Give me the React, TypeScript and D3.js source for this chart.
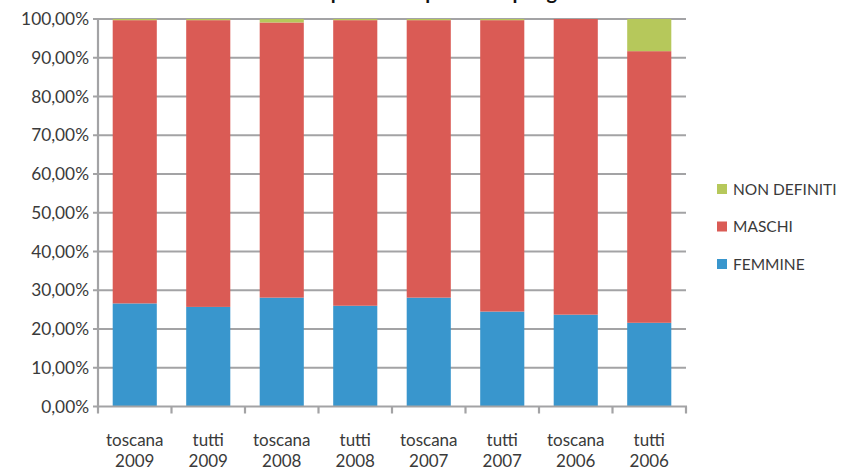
import React from "react";
import * as d3 from "d3";

// Stacked 100% bars: share of women, men and undefined per group/year
const categories = [
  ["toscana", "2009"],
  ["tutti", "2009"],
  ["toscana", "2008"],
  ["tutti", "2008"],
  ["toscana", "2007"],
  ["tutti", "2007"],
  ["toscana", "2006"],
  ["tutti", "2006"],
];
const femmine = [26.6, 25.7, 28.1, 26.0, 28.1, 24.5, 23.7, 21.6];
const maschi = [73.1, 74.0, 71.0, 73.7, 71.6, 75.2, 76.3, 70.1];
const nonDefiniti = [0.3, 0.3, 0.9, 0.3, 0.3, 0.3, 0.0, 8.3];
const yTicks = [0, 10, 20, 30, 40, 50, 60, 70, 80, 90, 100];
const title = "Grafico ripartizione per sesso per genere";

const seriesDefs = [
  { key: "femmine", label: "FEMMINE", values: femmine, color: "#3996CD" },
  { key: "maschi", label: "MASCHI", values: maschi, color: "#DA5B55" },
  { key: "nonDefiniti", label: "NON DEFINITI", values: nonDefiniti, color: "#B6C85B" },
];

const W = 842;
const H = 470;
const left = 98;
const right = 686;
const top = 19;
const bottom = 406.5;
const font = "Lato, 'Open Sans', sans-serif";
const gridColor = "#A3A3A5";
const textColor = "#3a3a3a";

export default function App() {
  const keys = categories.map((c) => c.join(" "));
  const x = d3.scaleBand<string>().domain(keys).range([left, right]).paddingInner(0.4).paddingOuter(0.2);
  const y = d3.scaleLinear().domain([0, 100]).range([bottom, top]);

  const rows = keys.map((k, i) => ({
    key: k,
    femmine: femmine[i],
    maschi: maschi[i],
    nonDefiniti: nonDefiniti[i],
  }));
  const stack = d3.stack<any>().keys(seriesDefs.map((s) => s.key));
  const stacked = stack(rows);

  const step = x.step();
  const boundaries = d3.range(keys.length + 1).map((i) => left + i * step);
  const fmt = (v: number) => v.toFixed(2).replace(".", ",") + "%";

  return (
    <svg
      width={W}
      height={H}
      style={{ position: "absolute", left: 0, top: 0, background: "#fff" }}
      fontFamily={font}
    >
      {/* title, sitting above the top edge */}
      <text x={428} y={-1} textAnchor="middle" fontSize={20} fontWeight="bold" fill="#111">
        {title}
      </text>

      {/* horizontal gridlines */}
      {yTicks.slice(1).map((t) => (
        <line key={t} x1={left - 5} x2={right} y1={y(t)} y2={y(t)} stroke={gridColor} strokeWidth={2.2} />
      ))}

      {/* bars */}
      {stacked.map((layer, si) => (
        <g key={layer.key} fill={seriesDefs[si].color}>
          {layer.map((d, i) => {
            const h = y(d[0]) - y(d[1]);
            if (h <= 0) return null;
            return <rect key={i} x={x(keys[i])} y={y(d[1])} width={x.bandwidth()} height={h} />;
          })}
        </g>
      ))}

      {/* axes */}
      <line x1={left} x2={left} y1={top - 1} y2={bottom + 1} stroke={gridColor} strokeWidth={2.2} />
      <line x1={left - 5} x2={right + 1} y1={bottom} y2={bottom} stroke={gridColor} strokeWidth={2.2} />
      {boundaries.map((bx, i) => (
        <line key={i} x1={bx} x2={bx} y1={bottom} y2={bottom + 7} stroke={gridColor} strokeWidth={2.2} />
      ))}

      {/* y labels */}
      {yTicks.map((t) => (
        <text
          key={t}
          x={89}
          y={y(t)}
          dy="0.36em"
          textAnchor="end"
          fontSize={17.3}
          fill={textColor}
        >
          {fmt(t)}
        </text>
      ))}

      {/* x labels */}
      {categories.map((c, i) => {
        const cx = (x(keys[i]) as number) + x.bandwidth() / 2;
        return (
          <text key={i} x={cx} textAnchor="middle" fontSize={17} fill={textColor}>
            <tspan x={cx} y={446}>{c[0]}</tspan>
            <tspan x={cx} y={467}>{c[1]}</tspan>
          </text>
        );
      })}

      {/* legend */}
      {[...seriesDefs].reverse().map((s, i) => {
        const ly = 189 + i * 37.5;
        return (
          <g key={s.key}>
            <rect x={717} y={ly - 5} width={10} height={10} fill={s.color} />
            <text x={733} y={ly} dy="0.36em" fontSize={15.5} fill={textColor}>
              {s.label}
            </text>
          </g>
        );
      })}
    </svg>
  );
}
